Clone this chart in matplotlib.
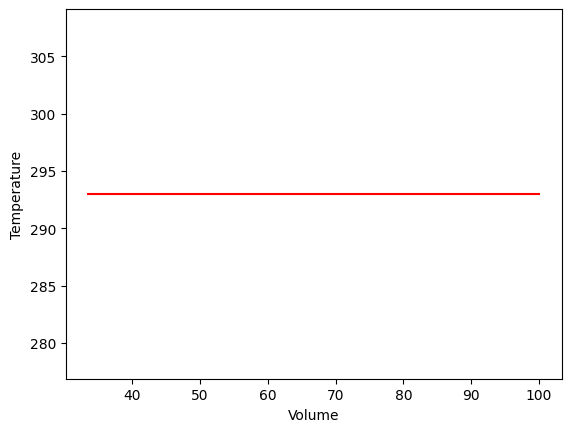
import matplotlib
matplotlib.use('Agg')
import matplotlib.pyplot as plt

# isothermal run, temperature stays put while volume changes
volume = [33.5, 40.0, 50.0, 60.0, 70.0, 80.0, 90.0, 100.0]
temperature = [293, 293, 293, 293, 293, 293, 293, 293]

fig, ax = plt.subplots(figsize=(6.4, 4.8), dpi=100)
ax.plot(volume, temperature, color='red')
ax.set_xlabel("Volume")
ax.set_ylabel("Temperature")

fig.savefig('out.png', dpi=100, bbox_inches='tight')
